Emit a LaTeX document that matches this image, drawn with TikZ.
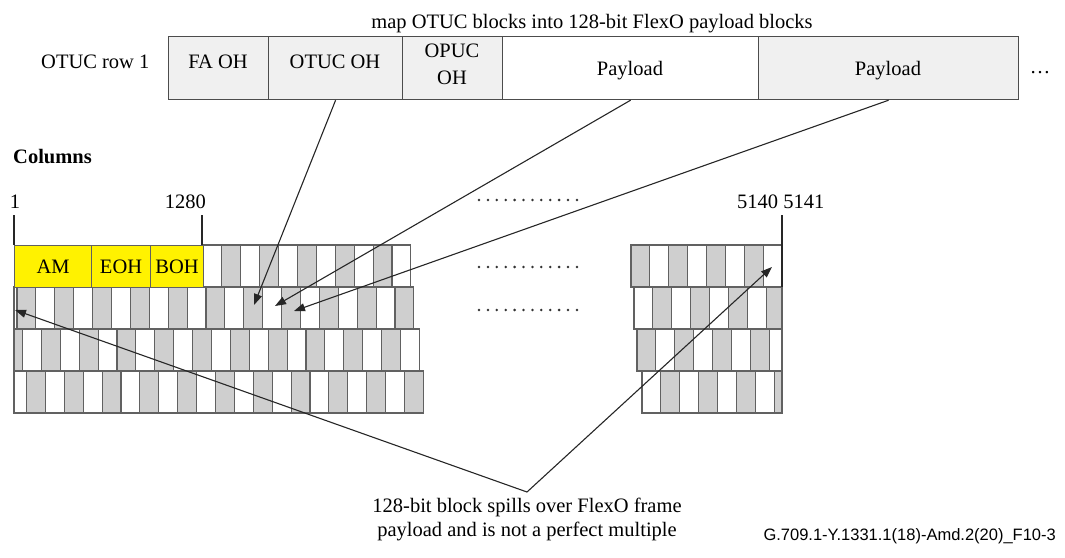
\documentclass[tikz,border=0pt]{standalone}
\usepackage{fontspec}
\setmainfont{Liberation Serif}
\newfontfamily\footfont{Liberation Sans}
\usetikzlibrary{arrows.meta}

\newcommand\blockrow[7]{%
  \foreach \k in {#3,...,#4}{%
    \pgfmathsetmacro\xa{max(#2+\k*18.9,#7)}%
    \pgfmathsetmacro\xb{min(#2+(\k+1)*18.9,#5)}%
    \pgfmathtruncatemacro\pp{mod(\k+10,2)}%
    \ifnum\pp=#6\relax
      \path[cellg] (\xa,#1) rectangle (\xb,#1+42);
    \else
      \path[cellw] (\xa,#1) rectangle (\xb,#1+42);
    \fi
  }}

\begin{document}
\begin{tikzpicture}[x=1pt,y=-1pt,
  txt/.style={font=\fontsize{20.5}{24}\selectfont, inner sep=0pt},
  txtb/.style={font=\fontsize{20.5}{24}\selectfont\bfseries, inner sep=0pt},
  topbox/.style={draw=black!70, line width=1.2pt, inner sep=0pt, anchor=north west, minimum height=63pt},
  cellw/.style={draw=black!62, line width=1.1pt, fill=white},
  cellg/.style={draw=black!62, line width=1.1pt, fill=black!19},
  ycell/.style={draw=black!62, line width=1.1pt, fill=yellow, inner sep=0pt, anchor=north west, minimum height=42pt, font=\fontsize{20.5}{24}\selectfont},
  arr/.style={-{Triangle[length=11pt,width=8pt]}, line width=1.1pt, black!85},
  tickline/.style={line width=1.1pt, black!85},
  dotrow/.style={line width=2.8pt, line cap=round, dash pattern=on 0pt off 8.9pt, black!80}
]
\useasboundingbox (0,0) rectangle (1065,557);

% title and top row
\node[txt, anchor=base] (title) at (592,28) {map OTUC blocks into 128-bit FlexO payload blocks};
\node[txt, anchor=base west] (rowlbl) at (41,68) {OTUC row 1};
\node[topbox, fill=black!6, minimum width=100pt] (faoh) at (168,36) {};
\node[topbox, fill=black!6, minimum width=134pt] (otucoh) at (268,36) {};
\node[topbox, fill=black!6, minimum width=100pt] (opucoh) at (402,36) {};
\node[topbox, fill=white, minimum width=256pt] (pl1) at (502,36) {};
\node[topbox, fill=black!6, minimum width=260pt] (pl2) at (758,36) {};
\node[txt, anchor=base] (faohl) at (218,68) {FA OH};
\node[txt, anchor=base] (otucohl) at (335,68) {OTUC OH};
\node[txt, anchor=base] (opucl1) at (452,57) {OPUC};
\node[txt, anchor=base] (opucl2) at (452,84) {OH};
\node[txt, anchor=base] (pl1l) at (630,75) {Payload};
\node[txt, anchor=base] (pl2l) at (888,75) {Payload};
\node[txt, anchor=base] (more) at (1040,73) {…};

% column labels
\node[txtb, anchor=base west] (cols) at (13,163) {Columns};
\node[txt, anchor=base] (c1) at (15,208) {1};
\node[txt, anchor=base east] (c1280) at (206,208) {1280};
\node[txt, anchor=base west] (c5140) at (737,208) {5140 5141};

% left part of the rows
\blockrow{245}{14}{10}{20}{1000}{1}{14}
\blockrow{287}{17}{-1}{20}{1000}{0}{14}
\blockrow{329}{22.5}{-1}{20}{1000}{1}{14}
\blockrow{371}{26.5}{-1}{20}{1000}{0}{14}
\node[ycell, minimum width=77pt] (am) at (14,245) {AM};
\node[ycell, minimum width=59pt] (eoh) at (91,245) {EOH};
\node[ycell, minimum width=53pt] (boh) at (150,245) {BOH};

% right part of the rows
\blockrow{245}{631}{0}{7}{782}{0}{631}
\blockrow{287}{634}{0}{7}{782}{1}{634}
\blockrow{329}{637}{0}{7}{782}{0}{637}
\blockrow{371}{642}{0}{7}{782}{1}{642}

% ticks
\draw[tickline] (14,215) -- (14,245);
\draw[tickline] (202,215) -- (202,245);
\draw[tickline] (782,215) -- (782,287);

% dotted gaps
\draw[dotrow] (479,200) -- (578,200);
\draw[dotrow] (479,267) -- (578,267);
\draw[dotrow] (479,310) -- (578,310);

% mapping arrows
\coordinate (tip1) at (254,305);
\coordinate (tip2) at (275,306);
\coordinate (tip3) at (294,311);
\draw[arr] (otucoh.south) -- (tip1);
\draw[arr] (pl1.south) -- (tip2);
\draw[arr] (pl2.south) -- (tip3);

% note
\node[txt, align=center, anchor=north] (note) at (527,498) {128-bit block spills over FlexO frame\\payload and is not a perfect multiple};
\coordinate (v) at ([yshift=6pt]note.north);
\coordinate (tipL) at (15,310);
\coordinate (tipR) at (772,267);
\draw[arr] (v) -- (tipL);
\draw[arr] (v) -- (tipR);

\node[font=\footfont\fontsize{16.5}{19}\selectfont, inner sep=0pt, anchor=base east] (fig) at (1056,540) {G.709.1-Y.1331.1(18)-Amd.2(20)\_F10-3};
\end{tikzpicture}
\end{document}
